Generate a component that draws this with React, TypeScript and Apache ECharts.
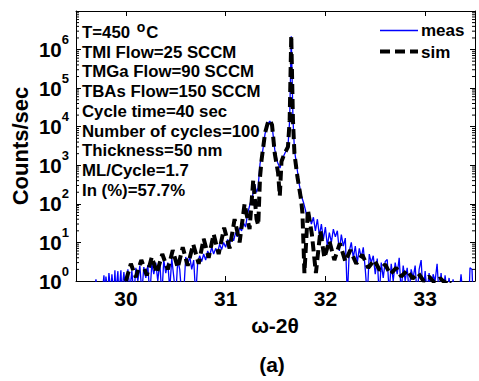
import React, { useEffect, useRef } from 'react';
import * as echarts from 'echarts';

const FONT = '"Liberation Sans", Arial, Helvetica, sans-serif';

const thetaRange = [29.5, 33.5];
const countRange = [1, 1e7];
const minorMultipliers = [2, 3, 4, 5, 6, 7, 8, 9];
const minorDecades = [1, 10, 100, 1000, 10000, 100000, 1000000];

const meas: [number, number][] = [
  [29.68, 0.4], [29.7, 1.1], [29.72, 0.4], [29.76, 0.4], [29.78, 1.4], [29.79, 0.4], [29.8, 1.3], [29.82, 0.5],
  [29.83, 1.6], [29.85, 0.5], [29.86, 1.5], [29.88, 0.4], [29.89, 1.9], [29.9, 0.5], [29.92, 1.8], [29.93, 0.4],
  [29.95, 1.9], [29.96, 0.5], [29.98, 1.7], [30.0, 0.4], [30.02, 2.0], [30.04, 0.6], [30.06, 1.8], [30.08, 0.4],
  [30.1, 2.2], [30.12, 1.0], [30.14, 2.5], [30.16, 0.5], [30.18, 2.3], [30.2, 1.2], [30.22, 2.6], [30.24, 0.4],
  [30.26, 2.8], [30.28, 1.5], [30.3, 3.0], [30.32, 1.0], [30.34, 3.2], [30.36, 0.4], [30.38, 3.5], [30.4, 1.6],
  [30.42, 3.0], [30.44, 0.6], [30.46, 3.8], [30.48, 1.3], [30.5, 0.4], [30.52, 3.5], [30.54, 2.0], [30.56, 0.4],
  [30.58, 0.5], [30.6, 4.2], [30.62, 2.5], [30.64, 4.5], [30.66, 2.0], [30.68, 3.5], [30.7, 0.4], [30.72, 3.0],
  [30.74, 4.5], [30.76, 3.2], [30.78, 5.0], [30.8, 3.5], [30.82, 6.0], [30.84, 4.5], [30.86, 7.5], [30.88, 5.0],
  [30.9, 7.0], [30.92, 5.5], [30.94, 9], [30.96, 6.5], [30.98, 10], [31.0, 7.5], [31.02, 12], [31.04, 9],
  [31.06, 15], [31.08, 11], [31.1, 18], [31.12, 14], [31.14, 24], [31.16, 20], [31.18, 32], [31.2, 25],
  [31.22, 55], [31.245, 100], [31.27, 160], [31.29, 330], [31.31, 200], [31.325, 260], [31.345, 1100], [31.37, 2200],
  [31.395, 6500], [31.42, 11500], [31.443, 14000], [31.465, 11000], [31.493, 2500], [31.52, 1200], [31.545, 850],
  [31.57, 1500], [31.6, 2200], [31.625, 3000], [31.642, 15000], [31.658, 2200000], [31.675, 16000], [31.69, 2500],
  [31.72, 700], [31.74, 300], [31.76, 160], [31.78, 110], [31.8, 70], [31.82, 40], [31.84, 50], [31.86, 30],
  [31.88, 45], [31.9, 20], [31.92, 40], [31.94, 15], [31.96, 30], [31.98, 12], [32.0, 25], [32.02, 8],
  [32.04, 18], [32.06, 10], [32.08, 22], [32.1, 14], [32.12, 20], [32.14, 6], [32.16, 16], [32.18, 8],
  [32.2, 13], [32.22, 0.4], [32.24, 6], [32.26, 10], [32.28, 4], [32.3, 8], [32.32, 3], [32.34, 7],
  [32.36, 4], [32.38, 7.5], [32.4, 2], [32.42, 0.4], [32.44, 5], [32.46, 3], [32.48, 4.5], [32.5, 1.5],
  [32.52, 3.8], [32.54, 0.4], [32.56, 3.0], [32.58, 1.2], [32.6, 3.2], [32.62, 3.6], [32.64, 0.5], [32.66, 2.8],
  [32.68, 1.0], [32.7, 3.0], [32.72, 1.5], [32.74, 4.0], [32.76, 0.5], [32.78, 2.5], [32.8, 1.0], [32.82, 2.2],
  [32.84, 0.5], [32.86, 2.0], [32.88, 1.2], [32.9, 2.5], [32.92, 0.4], [32.94, 2.0], [32.96, 3.5], [32.98, 0.4],
  [33.0, 1.8], [33.02, 0.5], [33.04, 1.6], [33.06, 0.4], [33.08, 1.5], [33.1, 1.0], [33.12, 2.8], [33.14, 0.4],
  [33.16, 1.6], [33.18, 0.4], [33.2, 1.4], [33.22, 0.5], [33.24, 1.2], [33.26, 0.4], [33.28, 1.1], [33.3, 0.4],
  [33.34, 0.4], [33.36, 1.5], [33.38, 0.4], [33.44, 0.4], [33.45, 2.2], [33.47, 2.0], [33.48, 0.4],
];

const sim: [number, number][] = [
  [30.0, 1.0], [30.05, 2.8], [30.1, 1.25], [30.155, 3.5], [30.21, 1.4], [30.26, 4.2], [30.31, 1.6], [30.365, 5],
  [30.42, 2], [30.47, 6.3], [30.52, 2.2], [30.57, 7.5], [30.62, 2.5], [30.675, 9], [30.73, 2.8], [30.78, 12.5],
  [30.83, 4], [30.88, 16.5], [30.93, 5], [30.985, 24], [31.04, 7], [31.09, 40], [31.14, 10], [31.19, 100],
  [31.24, 22], [31.277, 420], [31.31, 40], [31.327, 28], [31.345, 500], [31.36, 1350], [31.395, 6800], [31.42, 12000],
  [31.443, 14800], [31.465, 11200], [31.493, 2000], [31.526, 630], [31.543, 160], [31.56, 1260], [31.59, 2000],
  [31.625, 3000], [31.642, 14800], [31.658, 2300000], [31.675, 14800], [31.69, 2000], [31.72, 500], [31.757, 126],
  [31.77, 58], [31.79, 1.6], [31.825, 70], [31.865, 16], [31.905, 1.6], [31.95, 20], [31.99, 4], [32.04, 11],
  [32.09, 3.5], [32.145, 9.5], [32.2, 3.2], [32.25, 6.3], [32.31, 2.8], [32.37, 4.8], [32.43, 2.2], [32.49, 3.5],
  [32.545, 1.9], [32.6, 2.7], [32.65, 1.5], [32.71, 2.2], [32.76, 1.3], [32.82, 1.9], [32.875, 1.15], [32.93, 1.6],
  [32.985, 1.0], [33.04, 1.3], [33.095, 0.9], [33.15, 1.17], [33.2, 0.9], [33.23, 1.07], [33.27, 0.63],
];

const annotationLines = [
  'T=450 {sup|o}C',
  'TMI Flow=25 SCCM',
  'TMGa Flow=90 SCCM',
  'TBAs Flow=150 SCCM',
  'Cycle time=40 sec',
  'Number of cycles=100',
  'Thickness=50 nm',
  'ML/Cycle=1.7',
  'In (%)=57.7%',
];

const seriesNames = ['meas', 'sim'];
const xTitle = 'ω-2θ';
const yTitle = 'Counts/sec';
const panelLabel = '(a)';

const minorTicks: [number, number][] = [];
minorDecades.forEach((d) => minorMultipliers.forEach((m) => minorTicks.push([thetaRange[0], m * d])));

export default function App() {
  const ref = useRef<HTMLDivElement>(null);
  useEffect(() => {
    if (!ref.current) return;
    const chart = echarts.init(ref.current, undefined, { renderer: 'svg' });
    const axisLine = { show: true, lineStyle: { color: '#000', width: 1 } };
    const textBase = { fontFamily: FONT, fontWeight: 'bold' as const, fill: '#000' };
    const graphics: any[] = [];
    annotationLines.forEach((t, i) => {
      graphics.push({
        type: 'text', x: 82, y: 32.5 + i * 19.7,
        style: {
          ...textBase, text: t, fontSize: 16.8, align: 'left', verticalAlign: 'middle',
          rich: { sup: { fontFamily: FONT, fontWeight: 'bold', fontSize: 14, padding: [0, 1, 11, 2] } },
        },
      });
    });
    // legend
    graphics.push({ type: 'line', shape: { x1: 380, y1: 30.5, x2: 418, y2: 30.5 }, style: { stroke: '#0000ff', lineWidth: 1.5 } });
    graphics.push({ type: 'line', shape: { x1: 380, y1: 51.5, x2: 418, y2: 51.5 }, style: { stroke: '#000', lineWidth: 4, lineDash: [10, 5] } });
    graphics.push({ type: 'text', x: 421, y: 30.5, style: { ...textBase, text: seriesNames[0], fontSize: 17, align: 'left', verticalAlign: 'middle' } });
    graphics.push({ type: 'text', x: 421, y: 52.5, style: { ...textBase, text: seriesNames[1], fontSize: 17, align: 'left', verticalAlign: 'middle' } });
    graphics.push({ type: 'text', x: 275, y: 325, style: { ...textBase, text: xTitle, fontSize: 21, align: 'center', verticalAlign: 'middle' } });
    graphics.push({ type: 'text', x: 20, y: 146, rotation: Math.PI / 2, style: { ...textBase, text: yTitle, fontSize: 22, align: 'center', verticalAlign: 'middle' } });
    graphics.push({ type: 'text', x: 272, y: 364, style: { ...textBase, text: panelLabel, fontSize: 21, align: 'center', verticalAlign: 'middle' } });

    chart.setOption({
      animation: false,
      backgroundColor: '#fff',
      grid: { left: 76, top: 11, right: 4, bottom: 100, containLabel: false },
      xAxis: [
        {
          type: 'value', min: thetaRange[0], max: thetaRange[1], splitNumber: 4, position: 'bottom',
          axisLine, splitLine: { show: false },
          axisTick: { inside: true, length: 5, lineStyle: { color: '#000' } },
          axisLabel: {
            show: true, margin: 7, showMinLabel: false, showMaxLabel: false,
            color: '#000', fontFamily: FONT, fontWeight: 'bold', fontSize: 21,
            formatter: (v: number) => (Number.isInteger(v) ? String(v) : ''),
          },
        },
        {
          type: 'value', min: thetaRange[0], max: thetaRange[1], splitNumber: 4, position: 'top',
          axisLine, splitLine: { show: false },
          axisTick: { inside: true, length: 5, lineStyle: { color: '#000' } },
          axisLabel: { show: false },
        },
      ],
      yAxis: [
        {
          type: 'log', logBase: 10, min: countRange[0], max: countRange[1], splitNumber: 7, position: 'left',
          axisLine, splitLine: { show: false },
          axisTick: { inside: true, length: 5, lineStyle: { color: '#000' } },
          axisLabel: {
            margin: 7, color: '#000',
            formatter: (v: number) => {
              const e = Math.round(Math.log10(v));
              if (e > 6) return '';
              return `{b|10}{s|${e}}`;
            },
            rich: {
              b: { fontFamily: FONT, fontWeight: 'bold', fontSize: 20.5, color: '#000' },
              s: { fontFamily: FONT, fontWeight: 'bold', fontSize: 13, color: '#000', padding: [0, 0, 20, 0] },
            },
          },
        },
        {
          type: 'log', logBase: 10, min: countRange[0], max: countRange[1], splitNumber: 7, position: 'right',
          axisLine, splitLine: { show: false },
          axisTick: { inside: true, length: 5, lineStyle: { color: '#000' } },
          axisLabel: { show: false },
        },
      ],
      series: [
        {
          name: seriesNames[0], type: 'line', data: meas, xAxisIndex: 0, yAxisIndex: 0,
          showSymbol: false, symbol: 'none', clip: true,
          lineStyle: { color: '#0000ff', width: 1.3 },
        },
        {
          name: seriesNames[1], type: 'line', data: sim, xAxisIndex: 0, yAxisIndex: 0,
          showSymbol: false, symbol: 'none', clip: true,
          lineStyle: { color: '#000', width: 4, type: [10, 5], cap: 'butt' },
        },
        {
          type: 'custom', xAxisIndex: 0, yAxisIndex: 0, data: minorTicks, silent: true, clip: false, z: 5,
          renderItem: (params: any, api: any) => {
            const cs = params.coordSys;
            const y = api.coord([api.value(0), api.value(1)])[1];
            return {
              type: 'group',
              children: [
                { type: 'line', shape: { x1: cs.x, y1: y, x2: cs.x + 3, y2: y }, style: { stroke: '#000', lineWidth: 1 } },
                { type: 'line', shape: { x1: cs.x + cs.width - 3, y1: y, x2: cs.x + cs.width, y2: y }, style: { stroke: '#000', lineWidth: 1 } },
              ],
            };
          },
        },
      ],
      graphic: graphics,
    });
    return () => chart.dispose();
  }, []);
  return <div ref={ref} style={{ position: 'fixed', left: 0, top: 0, width: 479, height: 381 }} />;
}
